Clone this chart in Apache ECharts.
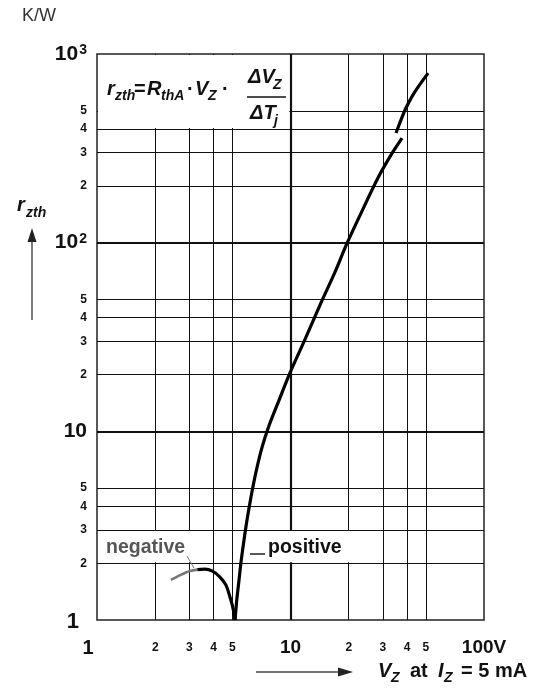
<!DOCTYPE html>
<html><head><meta charset="utf-8">
<script src="https://cdn.jsdelivr.net/npm/echarts@6/dist/echarts.min.js"></script>
<style>html,body{margin:0;padding:0;background:#fff}#c{width:541px;height:691px}</style>
</head><body><div id="c"></div>
<script>
// ---- data ----
const xTicks = [1, 2, 3, 4, 5, 10, 20, 30, 40, 50, 100];
const yTicks = [1, 2, 3, 4, 5, 10, 20, 30, 40, 50, 100, 200, 300, 400, 500, 1000];
const xGridMinor = [2, 3, 4, 5, 20, 30, 40, 50];
const xGridMajor = [10];
const yGridMinor = [2, 3, 4, 5, 20, 30, 40, 50, 200, 300, 400, 500];
const yGridMajor = [10, 100];

// positive coefficient curve (lower section)
const posV = [5.17, 5.29, 5.42, 5.55, 5.75, 5.96, 6.25, 6.63, 7.12, 7.74, 8.72, 9.94, 11.9, 14.2, 17.0, 19.4, 22.9, 28.3, 33.5, 37.7];
const posR = [1.0, 1.31, 1.63, 2.03, 2.65, 3.39, 4.49, 6.08, 8.2, 10.7, 14.6, 20.4, 30.8, 46.7, 70.0, 97, 140, 220, 298, 358];
// positive curve (upper section)
const posUpV = [35.1, 37.2, 39.5, 43.5, 51.4];
const posUpR = [381, 446, 517, 621, 792];
// negative coefficient curve
const negGrayV = [2.41, 2.69, 3.02, 3.3];
const negGrayR = [1.63, 1.73, 1.82, 1.85];
const negV = [3.3, 3.61, 3.93, 4.32, 4.64, 4.87, 5.04, 5.17];
const negR = [1.85, 1.86, 1.82, 1.69, 1.53, 1.32, 1.16, 1.0];

const FONT = '"Liberation Sans", Arial, Helvetica, sans-serif';
const zip = (a, b) => a.map((v, i) => [v, b[i]]);
const majorY = { 1: '{one|1}', 10: '{maj|10}', 100: '{maj|10}{sup|2}', 1000: '{maj|10}{sup|3}' };
const majorX = { 1: '{one|1}', 10: '{maj|10}', 100: '{maj|100V}' };
const leadDigit = v => Math.round(v / Math.pow(10, Math.floor(Math.log10(v) + 1e-9)));

const chart = echarts.init(document.getElementById('c'), null, { renderer: 'canvas' });

const gridLine = (key, arr, w) => arr.map(v => ({ [key]: v, lineStyle: { width: w, color: '#111', type: 'solid' } }));

const option = {
  animation: false,
  backgroundColor: '#fff',
  grid: { left: 97, top: 54, right: 57, bottom: 71, show: true, borderColor: '#222', borderWidth: 1.5, backgroundColor: 'transparent' },
  xAxis: {
    type: 'log', logBase: 10, min: 1, max: 100,
    axisLine: { show: false }, axisTick: { show: false }, splitLine: { show: false }, minorSplitLine: { show: false },
    axisLabel: {
      customValues: xTicks, margin: 17,
      formatter: v => majorX[v] || ('{min|' + leadDigit(v) + '}'),
      rich: {
        maj: { fontFamily: FONT, fontWeight: 'bold', fontSize: 19, color: '#111', lineHeight: 22 },
        one: { fontFamily: FONT, fontWeight: 'bold', fontSize: 20, color: '#111', lineHeight: 22, padding: [0, 18, 0, 0] },
        min: { fontFamily: FONT, fontWeight: 'bold', fontSize: 12, color: '#111', lineHeight: 22 }
      }
    }
  },
  yAxis: {
    type: 'log', logBase: 10, min: 1, max: 1000,
    axisLine: { show: false }, axisTick: { show: false }, splitLine: { show: false }, minorSplitLine: { show: false },
    axisLabel: {
      customValues: yTicks, margin: 10,
      formatter: v => majorY[v] || ('{min|' + leadDigit(v) + '}'),
      rich: {
        maj: { fontFamily: FONT, fontWeight: 'bold', fontSize: 21, color: '#111' },
        sup: { fontFamily: FONT, fontWeight: 'bold', fontSize: 14, color: '#111', verticalAlign: 'top', padding: [0, 0, 0, 1] },
        one: { fontFamily: FONT, fontWeight: 'bold', fontSize: 22, color: '#111', padding: [4, 8, 0, 0] },
        min: { fontFamily: FONT, fontWeight: 'bold', fontSize: 12, color: '#111' }
      }
    }
  },
  series: [
    {
      name: 'grid', type: 'line', data: [[1, 1]], showSymbol: false, lineStyle: { opacity: 0 }, z: 1, silent: true,
      markLine: {
        z: 1, silent: true, symbol: 'none', label: { show: false }, animation: false,
        lineStyle: { color: '#111', type: 'solid', width: 1 },
        emphasis: { disabled: true },
        data: [].concat(
          gridLine('xAxis', xGridMinor, 1), gridLine('xAxis', xGridMajor, 2.2),
          gridLine('yAxis', yGridMinor, 1), gridLine('yAxis', yGridMajor, 2.2))
      }
    },
    { name: 'positive', type: 'line', data: zip(posV, posR), showSymbol: false, smooth: 0.3, z: 10, lineStyle: { color: '#000', width: 3.2 } },
    { name: 'positive2', type: 'line', data: zip(posUpV, posUpR), showSymbol: false, smooth: 0.3, z: 10, lineStyle: { color: '#000', width: 3.2 } },
    { name: 'negativeGray', type: 'line', data: zip(negGrayV, negGrayR), showSymbol: false, smooth: 0.3, z: 10, lineStyle: { color: '#777', width: 2.6 } },
    { name: 'negative', type: 'line', data: zip(negV, negR), showSymbol: false, smooth: 0.3, z: 10, lineStyle: { color: '#000', width: 3.2 } }
  ]
};
chart.setOption(option);

// ---- annotations ----
const px = (x, y) => chart.convertToPixel({ gridIndex: 0 }, [x, y]);
const tl = px(1, 1000);
const b10 = px(10, 400);
const y3 = px(1, 3)[1], y2 = px(1, 2)[1];

const T = (text, x, y, size, opts) => ({
  type: 'text', x: x, y: y, z: 20, silent: true,
  style: Object.assign({
    text: text, fill: '#111',
    font: (opts && opts.italic ? 'italic ' : '') + (opts && opts.normal ? '' : 'bold ') + size + 'px ' + FONT,
    align: 'left', textAlign: 'left', verticalAlign: 'middle', textVerticalAlign: 'middle'
  }, (opts && opts.style) || {})
});
const I = { italic: true };
const L = (x1, y1, x2, y2, w, c) => ({ type: 'line', z: 20, silent: true, shape: { x1, y1, x2, y2 }, style: { stroke: c || '#111', lineWidth: w } });

const graphics = [
  // white boxes that mask grid lines
  { type: 'rect', z: 5, silent: true, shape: { x: tl[0] + 1, y: tl[1] + 1, width: b10[0] - tl[0] - 2.2, height: b10[1] - tl[1] - 2 }, style: { fill: '#fff' } },
  { type: 'rect', z: 5, silent: true, shape: { x: tl[0] + 1, y: y3 + 1, width: 100, height: y2 - y3 - 2 }, style: { fill: '#fff' } },
  { type: 'rect', z: 5, silent: true, shape: { x: 249, y: y3 + 1, width: 110, height: y2 - y3 - 2 }, style: { fill: '#fff' } },
  // formula
  T('r', 107, 89, 20, I), T('zth', 115, 96, 14, I), T('=', 134, 89, 20),
  T('R', 147, 89, 20, I), T('thA', 161, 96, 14, I), T('·', 187, 89, 20),
  T('V', 195, 89, 20, I), T('Z', 208, 96, 14, I), T('·', 222, 89, 20),
  T('ΔV', 248, 77, 20, I), T('Z', 273, 85, 14, I),
  L(247, 97, 286, 97, 1.6),
  T('ΔT', 250, 113, 20, I), T('j', 274, 121, 14, I),
  // curve labels
  T('negative', 106, 548, 19.5, { style: { fill: '#555' } }),
  L(187, 556, 194, 568, 1, '#777'),
  T('positive', 268, 548, 19.5),
  L(250, 554, 265, 554, 1.4),
  // unit
  T('K/W', 22, 16, 18, { normal: true, style: { fill: '#333' } }),
  // y title and arrow
  T('r', 17, 205, 20, I), T('zth', 26, 213, 14, I),
  L(32, 320, 32, 240, 1.4, '#444'),
  { type: 'polygon', z: 20, silent: true, shape: { points: [[32, 228], [27.5, 242], [36.5, 242]] }, style: { fill: '#222' } },
  // x title and arrow
  L(256, 672, 340, 672, 1.4, '#444'),
  { type: 'polygon', z: 20, silent: true, shape: { points: [[353, 672], [338, 667.5], [338, 676.5]] }, style: { fill: '#222' } },
  T('V', 378, 671, 20, I), T('Z', 391, 678, 14, I), T('at', 410, 671, 20),
  T('I', 438, 671, 20, I), T('Z', 444, 678, 14, I), T('= 5 mA', 461, 671, 20)
];
chart.setOption({ graphic: graphics });
</script>
</body></html>
